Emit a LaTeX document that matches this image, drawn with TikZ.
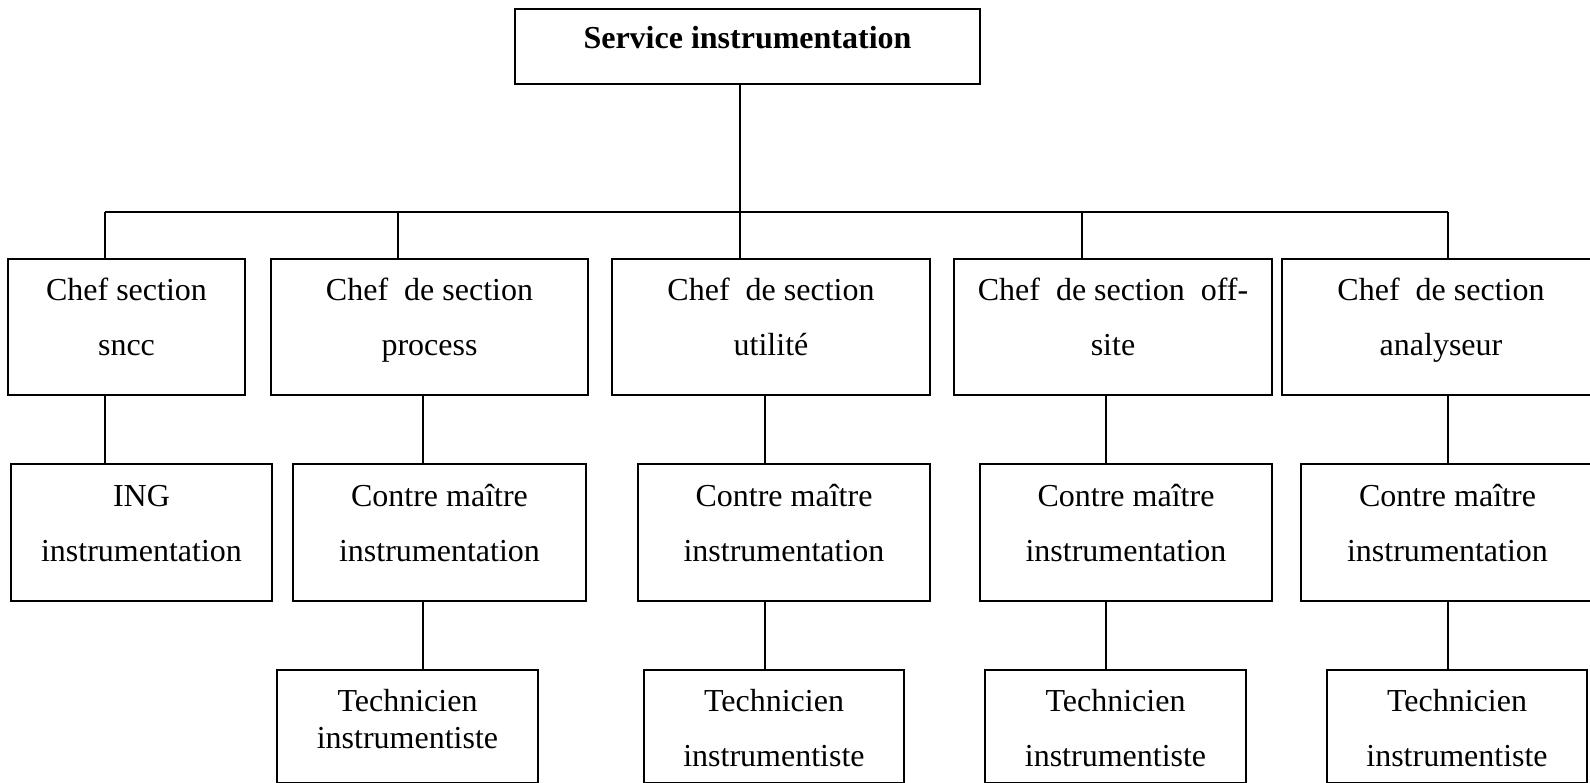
\documentclass[tikz,border=0pt]{standalone}
\usepackage{fontspec}
\setmainfont{Liberation Serif}
\begin{document}
\begin{tikzpicture}[x=1pt,y=-1pt,
  orgbox/.style={draw=black,line width=2.7pt,rectangle,inner sep=0pt,fill=white},
  lbl/.style={inner sep=0pt,anchor=base,font=\fontsize{32}{38}\selectfont},
  link/.style={draw=black,line width=2pt}]
\useasboundingbox (0,0) rectangle (1590,783);
\clip (0,0) rectangle (1590,783);

% ---- boxes ----
\node[orgbox,minimum width=465pt,minimum height=75pt] (top) at (747.5,46.5) {};
% chefs de section
\node[orgbox,minimum width=237pt,minimum height=136pt] (c1) at (126.5,327) {};
\node[orgbox,minimum width=317pt,minimum height=136pt] (c2) at (429.5,327) {};
\node[orgbox,minimum width=318pt,minimum height=136pt] (c3) at (771,327) {};
\node[orgbox,minimum width=318pt,minimum height=136pt] (c4) at (1113,327) {};
\node[orgbox,minimum width=318pt,minimum height=136pt] (c5) at (1441,327) {};
% second level
\node[orgbox,minimum width=261pt,minimum height=137pt] (ing) at (141.5,532.5) {};
\node[orgbox,minimum width=293pt,minimum height=137pt] (m2) at (439.5,532.5) {};
\node[orgbox,minimum width=292pt,minimum height=137pt] (m3) at (784,532.5) {};
\node[orgbox,minimum width=292pt,minimum height=137pt] (m4) at (1126,532.5) {};
\node[orgbox,minimum width=293pt,minimum height=137pt] (m5) at (1447.5,532.5) {};
% techniciens
\node[orgbox,minimum width=261pt,minimum height=113pt] (t2) at (407.5,726.5) {};
\node[orgbox,minimum width=260pt,minimum height=113pt] (t3) at (774,726.5) {};
\node[orgbox,minimum width=261pt,minimum height=113pt] (t4) at (1115.5,726.5) {};
\node[orgbox,minimum width=260pt,minimum height=113pt] (t5) at (1457,726.5) {};

% ---- texts ----
\node[lbl,font=\fontsize{32}{38}\selectfont\bfseries] (ltop) at (747.5,49) {Service instrumentation};

\node[lbl] (lc1a) at (126.5,301) {Chef section};
\node[lbl] (lc1b) at (126.5,356) {sncc};
\node[lbl] (lc2a) at (429.5,301) {Chef~ de section};
\node[lbl] (lc2b) at (429.5,356) {process};
\node[lbl] (lc3a) at (771,301) {Chef~ de section};
\node[lbl] (lc3b) at (771,356) {utilité};
\node[lbl] (lc4a) at (1113,301) {Chef~ de section~ off-};
\node[lbl] (lc4b) at (1113,356) {site};
\node[lbl] (lc5a) at (1441,301) {Chef~ de section};
\node[lbl] (lc5b) at (1441,356) {analyseur};

\node[lbl] (linga) at (141.5,506) {ING};
\node[lbl] (lingb) at (141.5,561) {instrumentation};
\foreach \n/\x in {m2/439.5,m3/784,m4/1126,m5/1447.5}{
  \node[lbl] (l\n a) at (\x,506) {Contre maître};
  \node[lbl] (l\n b) at (\x,561) {instrumentation};
}

\node[lbl] (lt2a) at (407.5,711) {Technicien};
\node[lbl] (lt2b) at (407.5,748) {instrumentiste};
\foreach \n/\x in {t3/774,t4/1115.5,t5/1457}{
  \node[lbl] (l\n a) at (\x,711) {Technicien};
  \node[lbl] (l\n b) at (\x,766) {instrumentiste};
}

% ---- connectors ----
\coordinate (bus) at (0,212);
\coordinate (k1) at (105,0);
\coordinate (k2) at (398,0);
\coordinate (k3) at (740,0);
\coordinate (k4) at (1082,0);
\coordinate (k5) at (1448,0);
\coordinate (d2) at (423,0);
\coordinate (d3) at (765,0);
\coordinate (d4) at (1106,0);

\draw[link] (k3 |- top.south) -- (k3 |- bus);
\draw[link] (k1 |- bus) -- (k5 |- bus);
\foreach \i in {1,...,5}{
  \draw[link] (k\i |- bus) -- (k\i |- c\i.north);
}
\draw[link] (k1 |- c1.south) -- (k1 |- ing.north);
\draw[link] (d2 |- c2.south) -- (d2 |- m2.north);
\draw[link] (d3 |- c3.south) -- (d3 |- m3.north);
\draw[link] (d4 |- c4.south) -- (d4 |- m4.north);
\draw[link] (k5 |- c5.south) -- (k5 |- m5.north);
\draw[link] (d2 |- m2.south) -- (d2 |- t2.north);
\draw[link] (d3 |- m3.south) -- (d3 |- t3.north);
\draw[link] (d4 |- m4.south) -- (d4 |- t4.north);
\draw[link] (k5 |- m5.south) -- (k5 |- t5.north);
\end{tikzpicture}
\end{document}
